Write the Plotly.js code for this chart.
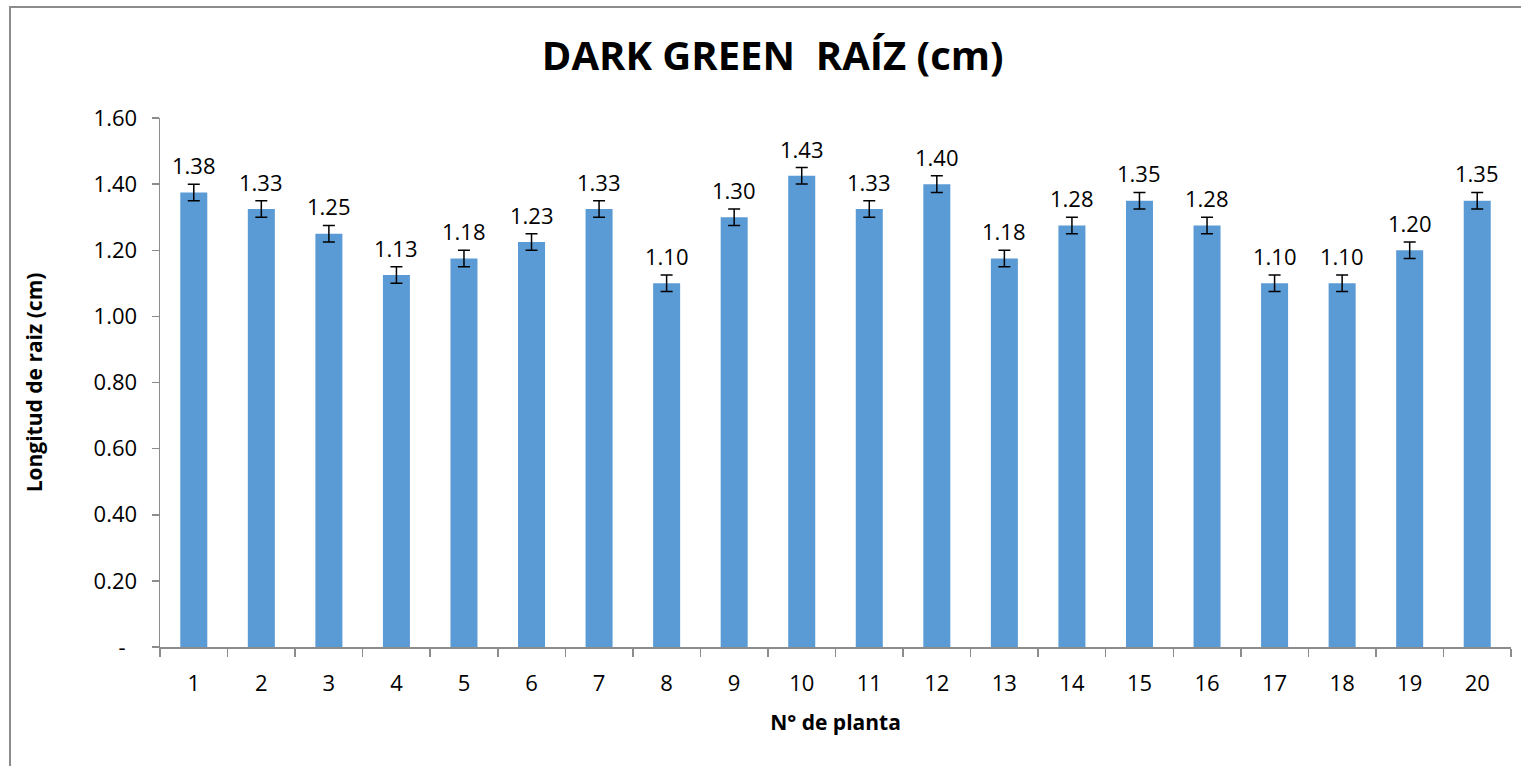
<!DOCTYPE html>
<html>
<head>
<meta charset="utf-8">
<script src="https://cdn.plot.ly/plotly-3.0.1.min.js"></script>
<style>
html,body{margin:0;padding:0;background:#fff;overflow:hidden;}
#chart{width:1521px;height:766px;}
#frame{position:absolute;left:9px;top:6px;width:1600px;height:900px;border-left:2px solid #8c8c8c;border-top:2px solid #8c8c8c;pointer-events:none;}
</style>
</head>
<body>
<div id="chart"></div>
<div id="frame"></div>
<script>
const plantas = ["1","2","3","4","5","6","7","8","9","10","11","12","13","14","15","16","17","18","19","20"];
const longitud = [1.375,1.325,1.25,1.125,1.175,1.225,1.325,1.10,1.30,1.425,1.325,1.40,1.175,1.275,1.35,1.275,1.10,1.10,1.20,1.35];
const errores = [0.025,0.025,0.025,0.025,0.025,0.025,0.025,0.025,0.025,0.025,0.025,0.025,0.025,0.025,0.025,0.025,0.025,0.025,0.025,0.025];
const etiquetas = ["1.38","1.33","1.25","1.13","1.18","1.23","1.33","1.10","1.30","1.43","1.33","1.40","1.18","1.28","1.35","1.28","1.10","1.10","1.20","1.35"];
const yTickVals = [0,0.2,0.4,0.6,0.8,1.0,1.2,1.4,1.6];
const yTickText = ["-\u00a0\u00a0","0.20","0.40","0.60","0.80","1.00","1.20","1.40","1.60"];

const FONT = "Open Sans, Noto Sans, sans-serif";

const trace = {
  type: "bar",
  x: plantas,
  y: longitud,
  marker: {color: "#5B9BD5"},
  error_y: {type: "data", array: errores, visible: true, color: "#000", thickness: 1.5, width: 6},
  hoverinfo: "x+y"
};

const annotations = plantas.map((p, i) => ({
  x: i, y: longitud[i] + errores[i], xref: "x", yref: "y",
  text: etiquetas[i], showarrow: false, yanchor: "bottom", yshift: 2,
  font: {family: FONT, size: 22, color: "#000"}
}));

const layout = {
  width: 1521, height: 766,
  margin: {l: 160, r: 10, t: 118, b: 119},
  paper_bgcolor: "#fff", plot_bgcolor: "#fff",
  bargap: 0.6,
  showlegend: false,
  title: {text: "<b>DARK GREEN  RAÍZ (cm)</b>", x: 0.508, xanchor: "center", y: 0.927, yanchor: "middle",
          font: {family: FONT, size: 40, color: "#000"}},
  xaxis: {
    type: "category",
    range: [-0.5, 19.5],
    showline: true, linecolor: "#8c8c8c", linewidth: 1.5,
    ticks: "outside", tickson: "boundaries", ticklen: 8, tickcolor: "#8c8c8c", tickwidth: 1.5,
    ticklabelstandoff: 16,
    tickfont: {family: FONT, size: 22, color: "#000"},
    showgrid: false, zeroline: false,
    title: {text: "<b>N° de planta</b>", font: {family: FONT, size: 21, color: "#000"}, standoff: 19}
  },
  yaxis: {
    range: [0, 1.6],
    tickvals: yTickVals, ticktext: yTickText,
    showline: true, linecolor: "#8c8c8c", linewidth: 1.5,
    ticks: "outside", ticklen: 7, tickcolor: "#8c8c8c", tickwidth: 1.5,
    ticklabelstandoff: 10,
    tickfont: {family: FONT, size: 22, color: "#000"},
    showgrid: false, zeroline: false,
    title: {text: "<b>Longitud de raiz (cm)</b>", font: {family: FONT, size: 21, color: "#000"}, standoff: 45}
  },
  annotations: annotations
};

Plotly.newPlot("chart", [trace], layout, {displayModeBar: false, staticPlot: true});
</script>
</body>
</html>
